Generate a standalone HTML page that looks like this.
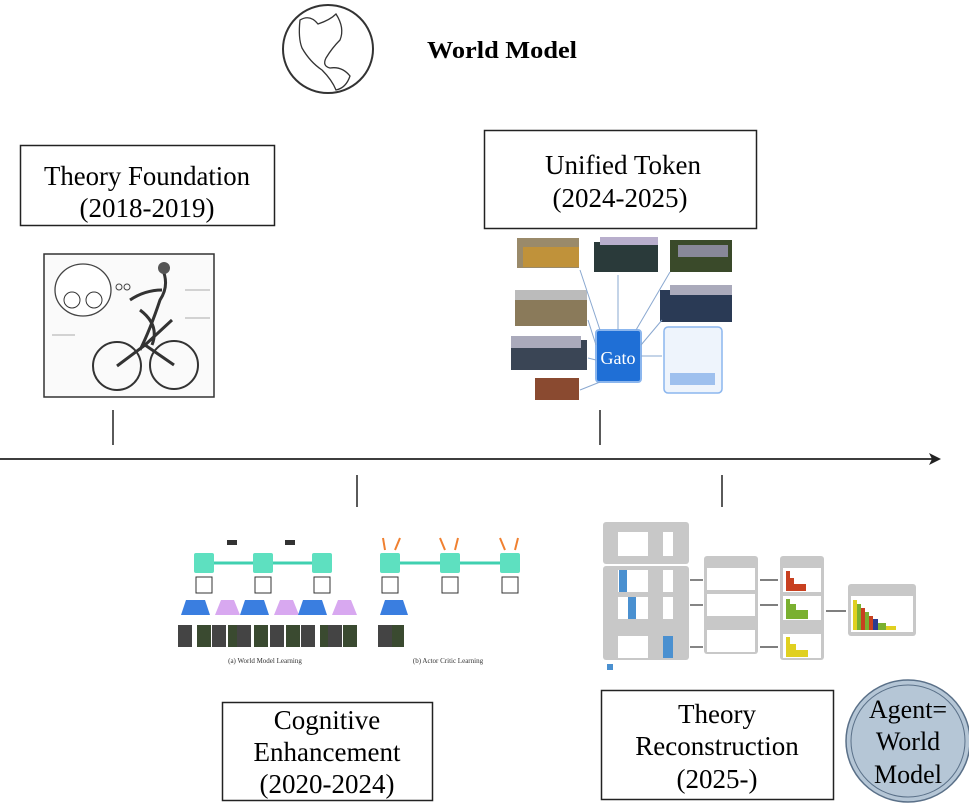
<!DOCTYPE html>
<html><head><meta charset="utf-8"><style>
html,body{margin:0;padding:0;background:#fff;}
svg{display:block;font-family:"Liberation Serif",serif;}
</style></head><body>
<svg width="969" height="803" viewBox="0 0 969 803" xmlns="http://www.w3.org/2000/svg">
<!-- globe -->
<ellipse cx="328" cy="49" rx="45" ry="44" fill="#fff" stroke="#333" stroke-width="2"/>
<path d="M300 20 Q310 14 318 24 Q330 20 336 14 Q345 28 340 40 Q332 48 326 58 Q322 66 330 68 Q342 66 350 76 Q346 88 336 90 Q332 80 322 70 Q310 62 302 48 Q298 38 300 20Z" fill="none" stroke="#333" stroke-width="1.3"/>
<text x="427" y="58" font-size="24" font-weight="bold" textLength="150" lengthAdjust="spacingAndGlyphs">World Model</text>
<!-- Theory Foundation -->
<rect x="20.5" y="145.5" width="254" height="80" fill="#fff" stroke="#222" stroke-width="1.5"/>
<text x="44" y="185" font-size="27" textLength="206" lengthAdjust="spacingAndGlyphs">Theory Foundation</text>
<text x="147" y="217" font-size="27" text-anchor="middle">(2018-2019)</text>
<!-- bicycle image -->
<rect x="44" y="254" width="170" height="143" fill="#fafafa" stroke="#333" stroke-width="1.5"/>
<ellipse cx="83" cy="290" rx="28" ry="26" fill="#fff" stroke="#444" stroke-width="1.3"/>
<circle cx="72" cy="300" r="8" fill="none" stroke="#333"/><circle cx="94" cy="300" r="8" fill="none" stroke="#333"/>
<circle cx="119" cy="287" r="3" fill="none" stroke="#444"/><circle cx="127" cy="287" r="3" fill="none" stroke="#444"/>
<circle cx="117" cy="366" r="24" fill="none" stroke="#333" stroke-width="2"/>
<circle cx="174" cy="365" r="24" fill="none" stroke="#333" stroke-width="2"/>
<path d="M162 268 Q170 285 160 300 Q150 330 140 350 M130 300 Q145 290 162 290 M140 310 Q160 325 152 345 M117 366 L145 345 L174 365 M145 345 L172 320" fill="none" stroke="#333" stroke-width="3"/>
<circle cx="164" cy="268" r="6" fill="#555"/>
<line x1="52" y1="335" x2="75" y2="335" stroke="#aaa"/><line x1="185" y1="290" x2="210" y2="290" stroke="#aaa"/><line x1="185" y1="318" x2="210" y2="318" stroke="#aaa"/>
<!-- Unified Token -->
<rect x="484.5" y="130.5" width="272" height="98" fill="#fff" stroke="#222" stroke-width="1.5"/>
<text x="545" y="174" font-size="27" textLength="156" lengthAdjust="spacingAndGlyphs">Unified Token</text>
<text x="620" y="207" font-size="27" text-anchor="middle">(2024-2025)</text>
<!-- Gato image -->
<g>
<rect x="517" y="238" width="62" height="30" fill="#9a8a6a"/><rect x="523" y="247" width="56" height="20" fill="#c0923a"/>
<rect x="594" y="242" width="64" height="30" fill="#2a3a3a"/><rect x="600" y="237" width="58" height="8" fill="#b8aecc"/>
<rect x="670" y="240" width="62" height="32" fill="#3a4a2a"/><rect x="678" y="245" width="50" height="12" fill="#889"/>
<rect x="515" y="290" width="72" height="36" fill="#8a7a5a"/><rect x="515" y="290" width="72" height="10" fill="#bbb"/>
<rect x="660" y="290" width="72" height="32" fill="#2a3a55"/><rect x="670" y="285" width="62" height="10" fill="#aab"/>
<rect x="511" y="340" width="76" height="30" fill="#3a4555"/><rect x="511" y="336" width="70" height="12" fill="#aab"/>
<rect x="535" y="378" width="44" height="22" fill="#8a4a30"/>
<rect x="512" y="408" width="0" height="0"/>
<rect x="596" y="330" width="45" height="52" rx="3" fill="#1f6fd6" stroke="#8bb6ee" stroke-width="2"/>
<text x="618" y="364" font-size="18" fill="#fff" text-anchor="middle">Gato</text>
<rect x="664" y="327" width="58" height="66" rx="4" fill="#eef4fc" stroke="#8bb6ee" stroke-width="1.5"/>
<rect x="670" y="373" width="45" height="12" fill="#9ec0ee"/>
<g stroke="#8aa8d0" stroke-width="1"><line x1="600" y1="330" x2="580" y2="270"/><line x1="618" y1="330" x2="618" y2="275"/><line x1="636" y1="330" x2="670" y2="272"/><line x1="596" y1="345" x2="588" y2="320"/><line x1="641" y1="345" x2="662" y2="320"/><line x1="596" y1="360" x2="588" y2="358"/><line x1="641" y1="356" x2="662" y2="356"/><line x1="600" y1="382" x2="580" y2="390"/></g>
</g>
<!-- ticks & axis -->
<line x1="113" y1="410" x2="113" y2="445" stroke="#222" stroke-width="1.5"/>
<line x1="600" y1="410" x2="600" y2="445" stroke="#222" stroke-width="1.5"/>
<line x1="0" y1="459" x2="935" y2="459" stroke="#222" stroke-width="1.8"/>
<polygon points="941,459 929,453 932,459 929,465" fill="#222"/>
<line x1="357" y1="475" x2="357" y2="507" stroke="#222" stroke-width="1.5"/>
<line x1="722" y1="475" x2="722" y2="507" stroke="#222" stroke-width="1.5"/>
<!-- World model learning figure -->
<g>
<line x1="205" y1="563" x2="330" y2="563" stroke="#40d0b0" stroke-width="3"/>
<rect x="194" y="553" width="20" height="20" rx="2" fill="#5ee0c0"/>
<rect x="253" y="553" width="20" height="20" rx="2" fill="#5ee0c0"/>
<rect x="312" y="553" width="20" height="20" rx="2" fill="#5ee0c0"/>
<rect x="196" y="577" width="16" height="16" fill="#fff" stroke="#333"/>
<rect x="255" y="577" width="16" height="16" fill="#fff" stroke="#333"/>
<rect x="314" y="577" width="16" height="16" fill="#fff" stroke="#333"/>
<polygon points="181,615 210,615 205,600 186,600" fill="#3a7ee0"/>
<polygon points="215,615 240,615 234,600 221,600" fill="#d8a8f0"/>
<polygon points="240,615 269,615 264,600 245,600" fill="#3a7ee0"/>
<polygon points="274,615 299,615 293,600 280,600" fill="#d8a8f0"/>
<polygon points="298,615 327,615 322,600 303,600" fill="#3a7ee0"/>
<polygon points="332,615 357,615 351,600 338,600" fill="#d8a8f0"/>
<g fill="#444"><rect x="178" y="625" width="14" height="22"/><rect x="197" y="625" width="14" height="22" fill="#3a4a30"/>
<rect x="212" y="625" width="14" height="22"/><rect x="228" y="625" width="14" height="22" fill="#3a4a30"/>
<rect x="237" y="625" width="14" height="22"/><rect x="254" y="625" width="14" height="22" fill="#3a4a30"/>
<rect x="270" y="625" width="14" height="22"/><rect x="286" y="625" width="14" height="22" fill="#3a4a30"/>
<rect x="301" y="625" width="14" height="22"/><rect x="320" y="625" width="14" height="22" fill="#3a4a30"/>
<rect x="328" y="625" width="14" height="22"/><rect x="343" y="625" width="14" height="22" fill="#3a4a30"/></g>
<rect x="227" y="540" width="10" height="5" fill="#333"/><rect x="285" y="540" width="10" height="5" fill="#333"/>
<text x="265" y="663" font-size="7" text-anchor="middle" fill="#333">(a) World Model Learning</text>
<line x1="390" y1="563" x2="520" y2="563" stroke="#40d0b0" stroke-width="3"/>
<rect x="380" y="553" width="20" height="20" rx="2" fill="#5ee0c0"/>
<rect x="440" y="553" width="20" height="20" rx="2" fill="#5ee0c0"/>
<rect x="500" y="553" width="20" height="20" rx="2" fill="#5ee0c0"/>
<rect x="382" y="577" width="16" height="16" fill="#fff" stroke="#333"/>
<rect x="442" y="577" width="16" height="16" fill="#fff" stroke="#333"/>
<rect x="502" y="577" width="16" height="16" fill="#fff" stroke="#333"/>
<polygon points="380,615 408,615 403,600 385,600" fill="#3a7ee0"/>
<rect x="378" y="625" width="14" height="22" fill="#444"/><rect x="392" y="625" width="12" height="22" fill="#3a4a30"/>
<g stroke="#f08030" stroke-width="2"><line x1="385" y1="550" x2="383" y2="538"/><line x1="395" y1="550" x2="400" y2="538"/><line x1="445" y1="550" x2="440" y2="538"/><line x1="455" y1="550" x2="458" y2="538"/><line x1="505" y1="550" x2="500" y2="538"/><line x1="515" y1="550" x2="518" y2="538"/></g>
<text x="448" y="663" font-size="7" text-anchor="middle" fill="#333">(b) Actor Critic Learning</text>
</g>
<!-- reconstruction figure -->
<g>
<rect x="603" y="522" width="86" height="42" rx="3" fill="#c8c8c8"/>
<rect x="618" y="532" width="30" height="24" fill="#fff"/><rect x="663" y="532" width="10" height="24" fill="#fff"/>
<rect x="603" y="566" width="86" height="94" rx="3" fill="#c8c8c8"/>
<rect x="618" y="570" width="30" height="22" fill="#fff"/><rect x="619" y="570" width="8" height="22" fill="#4a90d0"/>
<rect x="618" y="597" width="30" height="22" fill="#fff"/><rect x="628" y="597" width="8" height="22" fill="#4a90d0"/>
<rect x="618" y="636" width="30" height="22" fill="#fff"/><rect x="663" y="636" width="10" height="22" fill="#4a90d0"/>
<rect x="663" y="570" width="10" height="22" fill="#fff"/><rect x="663" y="597" width="10" height="22" fill="#fff"/>
<rect x="607" y="664" width="6" height="6" fill="#4a90d0"/>
<rect x="704" y="556" width="54" height="98" rx="3" fill="#c8c8c8"/>
<rect x="707" y="568" width="48" height="22" fill="#fff"/><rect x="707" y="594" width="48" height="22" fill="#fff"/><rect x="707" y="630" width="48" height="22" fill="#fff"/>
<rect x="780" y="556" width="44" height="104" rx="3" fill="#c8c8c8"/>
<rect x="783" y="568" width="38" height="24" fill="#fff"/><rect x="783" y="596" width="38" height="24" fill="#fff"/><rect x="783" y="634" width="38" height="24" fill="#fff"/>
<path d="M786 571 h4 v20 h-4z M790 578 h4 v13 h-4z M794 584 h12 v7 h-12z" fill="#c84020"/>
<path d="M786 599 h4 v20 h-4z M790 604 h6 v15 h-6z M796 610 h12 v9 h-12z" fill="#7ab030"/>
<path d="M786 637 h4 v20 h-4z M790 644 h6 v13 h-6z M796 650 h12 v7 h-12z" fill="#e0d020"/>
<rect x="848" y="584" width="68" height="52" rx="3" fill="#c8c8c8"/>
<rect x="851" y="596" width="62" height="36" fill="#fff"/>
<rect x="853" y="600" width="4" height="30" fill="#e0d020"/><rect x="857" y="604" width="4" height="26" fill="#7ab030"/><rect x="861" y="608" width="4" height="22" fill="#c84020"/><rect x="865" y="612" width="4" height="18" fill="#7ab030"/><rect x="869" y="616" width="4" height="14" fill="#c84020"/><rect x="873" y="619" width="5" height="11" fill="#2a3a90"/><rect x="878" y="623" width="8" height="7" fill="#7ab030"/><rect x="886" y="626" width="10" height="4" fill="#e0d020"/>
<g stroke="#333" stroke-width="1.2"><line x1="690" y1="580" x2="703" y2="580"/><line x1="690" y1="605" x2="703" y2="605"/><line x1="690" y1="647" x2="703" y2="647"/><line x1="760" y1="580" x2="778" y2="580"/><line x1="760" y1="605" x2="778" y2="605"/><line x1="760" y1="647" x2="778" y2="647"/><line x1="826" y1="611" x2="846" y2="611"/></g>
</g>
<!-- Cognitive box -->
<rect x="222.5" y="702.5" width="210" height="98" fill="#fff" stroke="#222" stroke-width="1.5"/>
<text x="327" y="729" font-size="27" text-anchor="middle">Cognitive</text>
<text x="327" y="761" font-size="27" text-anchor="middle">Enhancement</text>
<text x="327" y="793" font-size="27" text-anchor="middle">(2020-2024)</text>
<!-- Theory Reconstruction -->
<rect x="601.5" y="690.5" width="232" height="109" fill="#fff" stroke="#222" stroke-width="1.5"/>
<text x="717" y="723" font-size="27" text-anchor="middle">Theory</text>
<text x="717" y="755" font-size="27" text-anchor="middle">Reconstruction</text>
<text x="717" y="788" font-size="27" text-anchor="middle">(2025-)</text>
<!-- circle -->
<ellipse cx="908" cy="741" rx="62" ry="61" fill="#b5c6d6" stroke="#5a7088" stroke-width="1.5"/>
<ellipse cx="908" cy="741" rx="57" ry="56" fill="none" stroke="#5a7088" stroke-width="1"/>
<text x="908" y="718" font-size="26" text-anchor="middle">Agent=</text>
<text x="908" y="750" font-size="26" text-anchor="middle">World</text>
<text x="908" y="783" font-size="26" text-anchor="middle">Model</text>
</svg>
</body></html>
